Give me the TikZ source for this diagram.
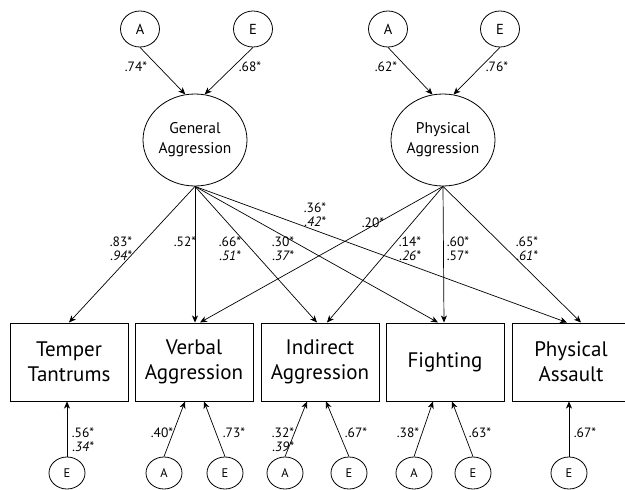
\documentclass[tikz,border=0pt]{standalone}
\usepackage{fontspec}
\setmainfont{PT Sans}
\usetikzlibrary{arrows.meta,shapes.geometric}
\begin{document}
\begin{tikzpicture}[x=1pt,y=-1pt,
  every node/.style={inner sep=0pt},
  latent/.style={draw,ellipse,line width=0.8pt,minimum width=104pt,minimum height=92pt,align=center,font=\fontsize{15.5}{20}\selectfont},
  topc/.style={draw,ellipse,line width=0.8pt,minimum width=39pt,minimum height=36pt,font=\fontsize{14.5}{16}\selectfont},
  botc/.style={draw,ellipse,line width=0.8pt,minimum width=36pt,minimum height=32pt,font=\fontsize{12.5}{14}\selectfont},
  obs/.style={draw,rectangle,line width=1pt,minimum width=118pt,minimum height=78pt,align=center,font=\fontsize{21}{25}\selectfont},
  lab/.style={align=center,font=\fontsize{13.5}{14}\selectfont},
  arr/.style={-{Stealth[length=7pt,width=6pt,inset=2pt]},line width=0.7pt}
]
\useasboundingbox (0,0) rectangle (625,490);
% latent factors
\node[latent] (GA) at (195,140) {General\\Aggression};
\node[latent] (PhA) at (443,140) {Physical\\Aggression};
\node[topc] (GAa) at (140,29) {A};
\node[topc] (GAe) at (253,29) {E};
\node[topc] (PAa) at (388,29) {A};
\node[topc] (PAe) at (500,29) {E};
% observed
\node[obs] (TT) at (69,362) {Temper\\Tantrums};
\node[obs] (VA) at (194,362) {Verbal\\Aggression};
\node[obs] (IA) at (320,362) {Indirect\\Aggression};
\node[obs] (F) at (445,362) {Fighting};
\node[obs] (PAS) at (571,362) {Physical\\Assault};
% bottom circles
\node[botc] (TTe) at (67,473) {E};
\node[botc] (VAa) at (164,473) {A};
\node[botc] (VAe) at (225,473) {E};
\node[botc] (IAa) at (285,473) {A};
\node[botc] (IAe) at (349,473) {E};
\node[botc] (Fa) at (414,473) {A};
\node[botc] (Fe) at (473,473) {E};
\node[botc] (PASe) at (569,473) {E};
% top arrows
\draw[arr] (GAa.south) -- (GA.102);
\draw[arr] (GAe.south) -- (GA.78);
\draw[arr] (PAa.south) -- (PhA.103);
\draw[arr] (PAe.south) -- (PhA.77);
% general aggression paths
\draw[arr] (GA.south) -- (TT.north);
\draw[arr] (GA.south) -- ([xshift=1pt]VA.north);
\draw[arr] (GA.south) -- ([xshift=-3pt]IA.north);
\draw[arr] (GA.south) -- ([xshift=-7pt]F.north);
\draw[arr] (GA.south) -- ([xshift=-4pt]PAS.north);
% physical aggression paths
\draw[arr] (PhA.south) -- ([xshift=6pt]VA.north);
\draw[arr] (PhA.south) -- ([xshift=7pt]IA.north);
\draw[arr] (PhA.south) -- ([xshift=-1pt]F.north);
\draw[arr] (PhA.south) -- ([xshift=10pt]PAS.north);
% bottom arrows
\draw[arr] (TTe.north) -- ([xshift=-2pt]TT.south);
\draw[arr] (VAa.north) -- ([xshift=-9pt]VA.south);
\draw[arr] (VAe.north) -- ([xshift=10pt]VA.south);
\draw[arr] (IAa.north) -- ([xshift=-13pt]IA.south);
\draw[arr] (IAe.north) -- ([xshift=6pt]IA.south);
\draw[arr] (Fa.north) -- ([xshift=-12pt]F.south);
\draw[arr] (Fe.north) -- ([xshift=7pt]F.south);
\draw[arr] (PASe.north) -- ([xshift=-2pt]PAS.south);
% labels top
\node[lab] (l1) at (136,67) {.74*};
\node[lab] (l2) at (250,67) {.68*};
\node[lab] (l3) at (386,67) {.62*};
\node[lab] (l4) at (497,67) {.76*};
% labels middle
\node[lab] (m1) at (121,249) {.83*\\\itshape .94*};
\node[lab] (m2) at (185,242) {.52*};
\node[lab] (m3) at (230,249) {.66*\\\itshape .51*};
\node[lab] (m4) at (283,249) {.30*\\\itshape .37*};
\node[lab] (m5) at (315,215) {.36*\\\itshape .42*};
\node[lab] (m6) at (373,223) {.20*};
\node[lab] (m7) at (410,249) {.14*\\\itshape .26*};
\node[lab] (m8) at (458,249) {.60*\\.57*};
\node[lab] (m9) at (527,249) {.65*\\\itshape .61*};
% labels bottom
\node[lab] (b1) at (83,440) {.56*\\\itshape .34*};
\node[lab] (b2) at (162,433) {.40*};
\node[lab] (b3) at (234,433) {.73*};
\node[lab] (b4) at (283,440) {.32*\\\itshape .39*};
\node[lab] (b5) at (356,433) {.67*};
\node[lab] (b6) at (408,433) {.38*};
\node[lab] (b7) at (480,433) {.63*};
\node[lab] (b8) at (585,433) {.67*};
\end{tikzpicture}
\end{document}
